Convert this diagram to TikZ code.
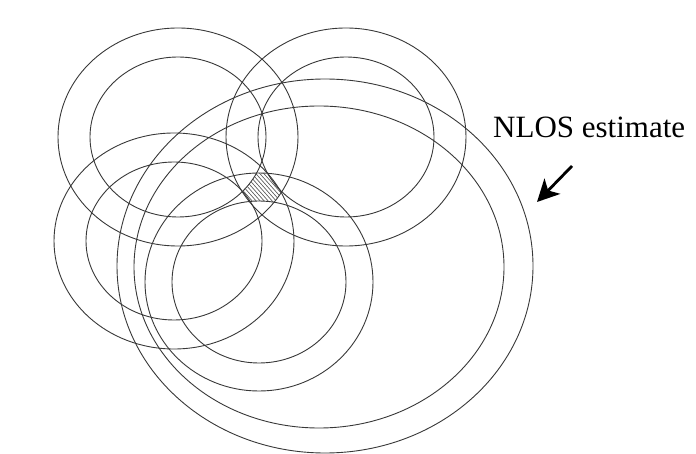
\documentclass[tikz,border=0pt]{standalone}
\usepackage{fontspec}
\setmainfont{Liberation Serif}
\usetikzlibrary{arrows.meta}

\begin{document}
\begin{tikzpicture}[
		x=1pt, y=-1pt,
		ring/.style={draw=black!78, line width=0.9pt},
		hatchline/.style={draw=black!70, line width=0.6pt},
		pointer/.style={line width=2.8pt, -{Stealth[length=22pt, width=22pt, inset=6pt]}}
		]
		
		% ==========================================
		% CANVAS
		% ==========================================
		\useasboundingbox (0,0) rectangle (696,454);
		
		% ==========================================
		% RING CENTRES
		% ==========================================
		\coordinate (A) at (178,137);
		\coordinate (B) at (346,137);
		\coordinate (C) at (174,241);
		\coordinate (D) at (259,282);
		\coordinate (Eo) at (325,266);
		\coordinate (Ei) at (319,267);
		
		% ==========================================
		% RANGE RINGS (outer and inner ellipse of each pair)
		% ==========================================
		\foreach \co/\orx/\ory/\ci/\irx/\iry in {A/120/109/A/88/80, B/120/109/B/88/80, C/120/108/C/88/79, D/114/109/D/87/81, Eo/208/187/Ei/185/161} {
			\draw[ring] (\co) ellipse [x radius=\orx pt, y radius=\ory pt];
			\draw[ring] (\ci) ellipse [x radius=\irx pt, y radius=\iry pt];
		}
		
		% ==========================================
		% COMMON REGION OF THE FOUR LOS RINGS
		% ==========================================
		\begin{scope}[even odd rule]
			\clip (A) ellipse [x radius=120pt, y radius=109pt] (A) ellipse [x radius=88pt, y radius=80pt];
			\clip (B) ellipse [x radius=120pt, y radius=109pt] (B) ellipse [x radius=88pt, y radius=80pt];
			\clip (C) ellipse [x radius=120pt, y radius=108pt] (C) ellipse [x radius=88pt, y radius=79pt];
			\clip (D) ellipse [x radius=114pt, y radius=109pt] (D) ellipse [x radius=87pt, y radius=81pt];
			\foreach \k in {0,4,...,160} {
				\draw[hatchline] (150+\k,140) -- ++(80,90);
			}
		\end{scope}
		
		% ==========================================
		% LABEL AND POINTER
		% ==========================================
		\node[anchor=base west, inner sep=0pt, font=\fontsize{31}{36}\selectfont] (nlos) at (493,138) {NLOS estimate};
		\coordinate (tail) at (572,166);
		\coordinate (tip) at (537,202);
		\draw[pointer] (tail) -- (tip);
		
	\end{tikzpicture}
\end{document}
